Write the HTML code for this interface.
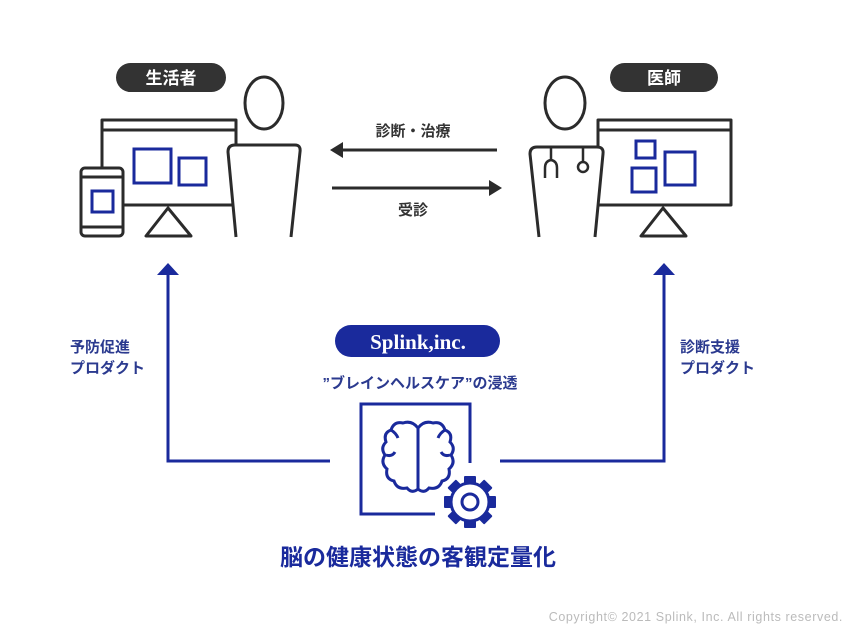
<!DOCTYPE html>
<html><head><meta charset="utf-8"><style>
html,body{margin:0;padding:0;background:#fff;width:859px;height:635px;overflow:hidden}
svg{display:block}
text{font-family:"Liberation Sans","Noto Sans CJK JP",sans-serif}
</style></head><body>
<svg width="859" height="635" viewBox="0 0 859 635" xmlns="http://www.w3.org/2000/svg">
<g fill="none" stroke="#2b2b2b" stroke-width="3" stroke-linejoin="round">
  <rect x="102" y="120" width="134" height="85"/>
  <line x1="102" y1="130" x2="236" y2="130"/>
  <path d="M168 208 L146 236 L191 236 Z"/>
  <rect x="81" y="168" width="42" height="68" rx="4" fill="#fff"/>
  <line x1="81" y1="177" x2="123" y2="177"/>
  <line x1="81" y1="227" x2="123" y2="227"/>
  <ellipse cx="264" cy="103" rx="19" ry="26"/>
  <path d="M236 237 L228 152 Q228 145 235 145 L295 145 Q301 145 300 152 L291 237" fill="#fff"/>
  <rect x="598" y="120" width="133" height="85"/>
  <line x1="598" y1="130" x2="731" y2="130"/>
  <path d="M663 208 L641 236 L686 236 Z"/>
  <ellipse cx="565" cy="103" rx="20" ry="26"/>
  <path d="M539 237 L530 154 Q530 147 537 147 L597 147 Q604 147 603 154 L595 237" fill="#fff"/>
  <path d="M551 147 L551 160 Q545 161 545 168 L545 178 M551 160 Q557 161 557 168 L557 178" stroke-width="2.5"/>
  <line x1="583" y1="147" x2="583" y2="161" stroke-width="2.5"/>
  <circle cx="583" cy="167" r="5" stroke-width="2.5"/>
  <line x1="340" y1="150" x2="497" y2="150"/>
  <line x1="332" y1="188" x2="490" y2="188"/>
</g>
<path d="M330 150 L343 142 L343 158 Z" fill="#2b2b2b"/>
<path d="M502 188 L489 180 L489 196 Z" fill="#2b2b2b"/>
<g fill="none" stroke="#1a2a9c" stroke-width="3">
  <rect x="134" y="149" width="37" height="34"/>
  <rect x="179" y="158" width="27" height="27"/>
  <rect x="92" y="191" width="21" height="21"/>
  <rect x="636" y="141" width="19" height="17"/>
  <rect x="632" y="168" width="24" height="24"/>
  <rect x="665" y="152" width="30" height="33"/>
</g>
<rect x="116" y="63" width="110" height="29" rx="14.5" fill="#333"/>
<text x="171" y="84" fill="#fff" font-size="17" font-weight="bold" text-anchor="middle">生活者</text>
<rect x="610" y="63" width="108" height="29" rx="14.5" fill="#333"/>
<text x="664" y="84" fill="#fff" font-size="17" font-weight="bold" text-anchor="middle">医師</text>
<text x="413" y="136" fill="#333" font-size="15" font-weight="bold" text-anchor="middle">診断・治療</text>
<text x="413" y="215" fill="#333" font-size="15" font-weight="bold" text-anchor="middle">受診</text>
<g fill="none" stroke="#1a2a9c" stroke-width="3">
  <path d="M168 274 L168 461 L330 461"/>
  <path d="M500 461 L664 461 L664 274"/>
  <path d="M470 463 L470 404 L361 404 L361 514 L435 514"/>
  <path d="M418 428 Q412 420 403 423 Q394 421 391 430 Q383 433 386 442 Q380 448 385 455 Q380 463 387 469 Q385 479 394 481 Q397 490 407 488 Q412 494 418 489 Z"/>
  <path d="M418 428 Q424 420 433 423 Q442 421 445 430 Q453 433 450 442 Q456 448 451 455 Q456 463 449 469 Q451 479 442 481 Q439 490 429 488 Q424 494 418 489"/>
  <line x1="418" y1="428" x2="418" y2="489"/>
  <path d="M386 455 Q392 457 395 452 M450 455 Q444 457 441 452 M391 430 Q396 433 398 438 M445 430 Q440 433 438 438"/>
  <circle cx="470" cy="502" r="19"/>
  <circle cx="470" cy="502" r="8"/>
</g>
<g fill="#1a2a9c">
  <rect x="464" y="476" width="12" height="8" rx="1"/>
  <rect x="464" y="476" width="12" height="8" rx="1" transform="rotate(45 470 502)"/>
  <rect x="464" y="476" width="12" height="8" rx="1" transform="rotate(90 470 502)"/>
  <rect x="464" y="476" width="12" height="8" rx="1" transform="rotate(135 470 502)"/>
  <rect x="464" y="476" width="12" height="8" rx="1" transform="rotate(180 470 502)"/>
  <rect x="464" y="476" width="12" height="8" rx="1" transform="rotate(225 470 502)"/>
  <rect x="464" y="476" width="12" height="8" rx="1" transform="rotate(270 470 502)"/>
  <rect x="464" y="476" width="12" height="8" rx="1" transform="rotate(315 470 502)"/>
</g>
<circle cx="470" cy="502" r="17" fill="none" stroke="#fff" stroke-width="0"/>
<path d="M168 263 L157 275 L179 275 Z" fill="#1a2a9c"/>
<path d="M664 263 L653 275 L675 275 Z" fill="#1a2a9c"/>
<text x="70" y="352" fill="#2b3a8f" font-size="15" font-weight="bold">予防促進</text>
<text x="70" y="373" fill="#2b3a8f" font-size="15" font-weight="bold">プロダクト</text>
<text x="680" y="352" fill="#2b3a8f" font-size="15" font-weight="bold">診断支援</text>
<text x="680" y="373" fill="#2b3a8f" font-size="15" font-weight="bold">プロダクト</text>
<rect x="335" y="325" width="165" height="32" rx="16" fill="#1a2a9c"/>
<text x="418" y="349" fill="#fff" font-size="21" font-weight="bold" text-anchor="middle" style="font-family:'Liberation Serif',serif">Splink,inc.</text>
<text x="420" y="388" fill="#2b3a8f" font-size="15" font-weight="bold" text-anchor="middle">”ブレインヘルスケア”の浸透</text>
<text x="418" y="565" fill="#1a2a9c" font-size="23" font-weight="bold" text-anchor="middle">脳の健康状態の客観定量化</text>
<text x="843" y="621" fill="#bbb" font-size="12.5" letter-spacing="0.6" text-anchor="end">Copyright© 2021 Splink, Inc. All rights reserved.</text>
</svg>
</body></html>
